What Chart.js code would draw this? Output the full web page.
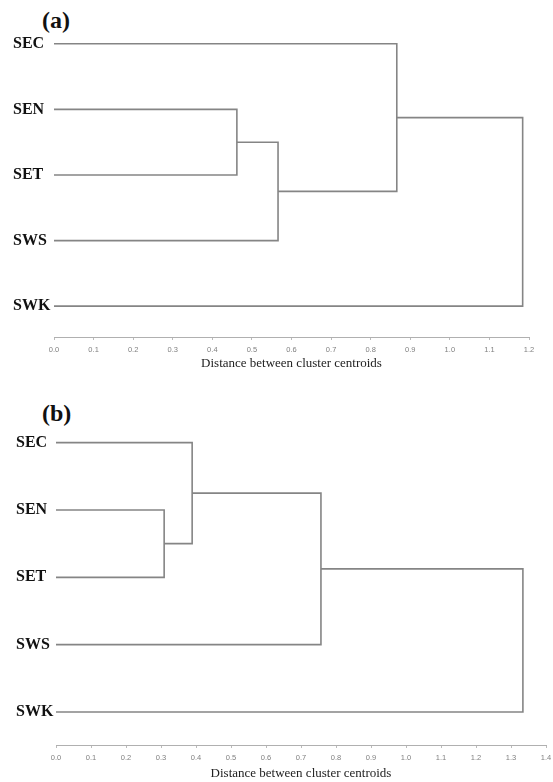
<!DOCTYPE html>
<html>
<head>
<meta charset="utf-8">
<script src="https://cdn.jsdelivr.net/npm/chart.js@4.4.1/dist/chart.umd.min.js"></script>
<style>
  body { margin: 0; background: #fff; }
  .wrap { position: relative; width: 553px; height: 782px; }
  .panel { position: absolute; left: 0; width: 553px; }
  .tag { position: absolute; left: 42px; font: bold 24px "Liberation Serif", serif; line-height: 1; color: #111; }
</style>
</head>
<body>
<div class="wrap">
  <div class="tag" style="top:8px">(a)</div>
  <div class="panel" style="top:0; height:372px"><canvas id="chartA"></canvas></div>
  <div class="tag" style="top:401px">(b)</div>
  <div class="panel" style="top:390px; height:392px"><canvas id="chartB"></canvas></div>
</div>
<script>
document.addEventListener('DOMContentLoaded', function() {
    const leaves = ['SEC', 'SEN', 'SET', 'SWS', 'SWK'];

    // merge pairs use scipy-style ids: 0..4 are leaves, 5.. are the merged clusters
    const pairsA = [[1, 2], [5, 3], [0, 6], [7, 4]];
    const heightsA = [0.462, 0.566, 0.866, 1.184];
    const ticksA = [0.0, 0.1, 0.2, 0.3, 0.4, 0.5, 0.6, 0.7, 0.8, 0.9, 1.0, 1.1, 1.2];

    const pairsB = [[1, 2], [0, 5], [6, 3], [7, 4]];
    const heightsB = [0.309, 0.389, 0.757, 1.334];
    const ticksB = [0.0, 0.1, 0.2, 0.3, 0.4, 0.5, 0.6, 0.7, 0.8, 0.9, 1.0, 1.1, 1.2, 1.3, 1.4];

    const lineColor = '#858585';

    // turn the merge table into U-shaped links
    function buildLinks(pairs, heights) {
        const nodes = leaves.map((_, i) => ({ x: 0, y: i }));
        const links = [];
        pairs.forEach(([a, b], k) => {
            const h = heights[k];
            const na = nodes[a], nb = nodes[b];
            links.push({
                data: [
                    { x: na.x, y: na.y },
                    { x: h, y: na.y },
                    { x: h, y: nb.y },
                    { x: nb.x, y: nb.y }
                ],
                showLine: true,
                borderColor: lineColor,
                borderWidth: 1.6,
                pointRadius: 0,
                tension: 0
            });
            nodes.push({ x: h, y: (na.y + nb.y) / 2 });
        });
        return links;
    }

    function makeChart(id, pairs, heights, ticks, opts) {
        new Chart(document.getElementById(id), {
            type: 'scatter',
            data: { datasets: buildLinks(pairs, heights) },
            options: {
                responsive: true,
                maintainAspectRatio: false,
                animation: false,
                layout: { padding: { left: opts.padLeft, right: opts.padRight, top: opts.padTop, bottom: 1 } },
                plugins: { legend: { display: false }, tooltip: { enabled: false } },
                scales: {
                    x: {
                        type: 'linear',
                        min: 0,
                        max: ticks[ticks.length - 1],
                        afterBuildTicks: scale => { scale.ticks = ticks.map(v => ({ value: v })); },
                        afterFit: scale => {
                            scale.height = opts.xHeight;
                            scale.paddingLeft = 0;
                            scale.paddingRight = 0;
                        },
                        grid: { drawOnChartArea: false, drawTicks: true, tickLength: 3, color: '#bbbbbb' },
                        border: { color: '#b0b0b0', width: 1 },
                        ticks: {
                            padding: 5,
                            maxRotation: 0,
                            autoSkip: false,
                            color: '#808080',
                            font: { family: 'Liberation Sans', size: 7.5 },
                            callback: v => Number(v).toFixed(1)
                        },
                        title: {
                            display: true,
                            text: 'Distance between cluster centroids',
                            color: '#222',
                            padding: { top: 0, bottom: 0 },
                            font: { family: 'Liberation Serif', size: 13 }
                        }
                    },
                    y: {
                        type: 'linear',
                        reverse: true,
                        min: -0.5,
                        max: opts.yMax,
                        afterBuildTicks: scale => { scale.ticks = leaves.map((_, i) => ({ value: i })); },
                        afterFit: scale => { scale.width = opts.yWidth; },
                        grid: { display: false },
                        border: { display: false },
                        ticks: {
                            crossAlign: 'far',
                            padding: 0,
                            color: '#111',
                            font: { family: 'Liberation Serif', size: 16, weight: 'bold' },
                            callback: v => leaves[v] || ''
                        }
                    }
                }
            }
        });
    }

    makeChart('chartA', pairsA, heightsA, ticksA,
        { padLeft: 13, padRight: 24, padTop: 11, yWidth: 41, yMax: 4.47, xHeight: 34 });
    makeChart('chartB', pairsB, heightsB, ticksB,
        { padLeft: 16, padRight: 7, padTop: 19, yWidth: 40, yMax: 4.49, xHeight: 36 });
});
</script>
</body>
</html>
